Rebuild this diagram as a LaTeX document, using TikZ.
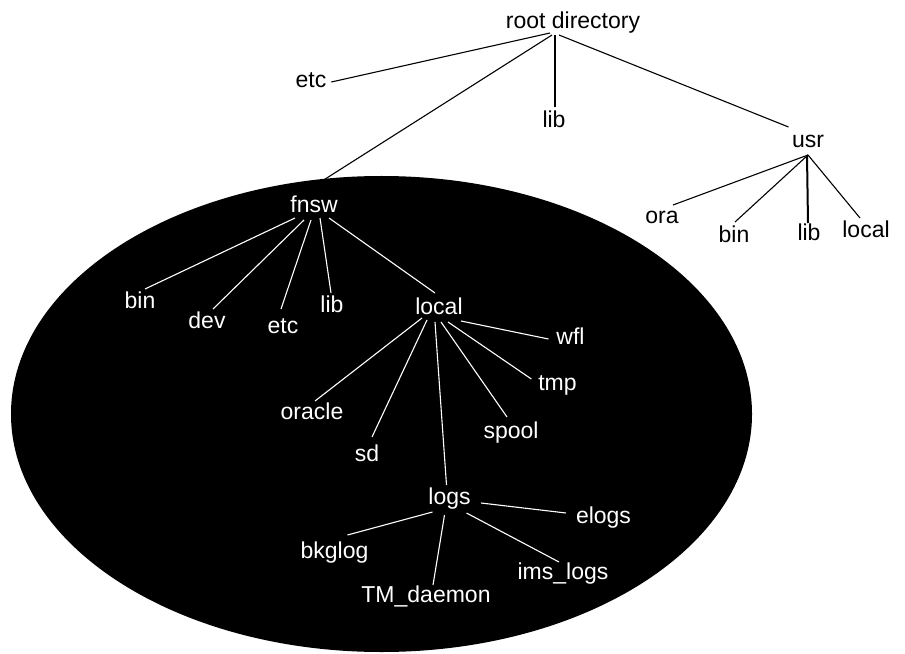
\documentclass[tikz,border=0pt]{standalone}
\usepackage{fontspec}
\setmainfont{Liberation Sans}
\begin{document}
\begin{tikzpicture}[x=1bp,y=-1bp,
  lbl/.style={inner sep=0pt, outer sep=0pt, anchor=base, text height=17bp, text depth=5bp,
    font=\fontsize{23bp}{27bp}\selectfont},
  wlbl/.style={lbl, text=white},
  blk/.style={draw=black, line width=1.1bp},
  wht/.style={draw=white, line width=1.1bp}]
\useasboundingbox (0,0) rectangle (905,654);
\fill[black] (381.5,414) ellipse [x radius=370.5bp, y radius=238bp];
% top level
\node[lbl] (root) at (573,29) {root directory};
\node[lbl] (etc) at (311,88) {etc};
\node[lbl] (lib) at (554,128) {lib};
\node[lbl] (usr) at (808,148) {usr};
\node[lbl] (ora) at (662,223) {ora};
\node[lbl] (ubin) at (734,242) {bin};
\node[lbl] (ulib) at (809,240) {lib};
\node[lbl] (ulocal) at (866,237) {local};
% inside ellipse
\node[wlbl] (fnsw) at (314,212) {fnsw};
\node[wlbl] (fbin) at (140,308) {bin};
\node[wlbl] (fdev) at (207,328) {dev};
\node[wlbl] (fetc) at (283,333) {etc};
\node[wlbl] (flib) at (332,312) {lib};
\node[wlbl] (flocal) at (439,314) {local};
\node[wlbl] (oracle) at (312,419) {oracle};
\node[wlbl] (sd) at (367,461) {sd};
\node[wlbl] (spool) at (511,438) {spool};
\node[wlbl] (wfl) at (570.5,344) {wfl};
\node[wlbl] (tmp) at (557.5,390) {tmp};
\node[wlbl] (logs) at (449.5,504) {logs};
\node[wlbl] (elogs) at (603.5,523) {elogs};
\node[wlbl] (bkglog) at (334.5,558) {bkglog};
\node[wlbl] (tmd) at (426,602) {TM\_daemon};
\node[wlbl] (ims) at (563,579) {ims\_logs};
% root connectors
\draw[blk] ([shift={(-23,-1)}]root.south) -- ([shift={(5,0)}]etc.east);
\draw[blk] ([shift={(-18,1)}]root.south) -- ([shift={(1,-4)}]lib.north);
\draw[blk] ([shift={(-21,1)}]root.south) -- ([shift={(-14,0)}]fnsw.north);
\draw[blk] ([shift={(-14,1)}]root.south) -- ([shift={(-3.5,-4)}]usr.north west);
% usr connectors
\draw[blk] ([shift={(0,2)}]usr.south) -- ([shift={(11,-1)}]ora.north);
\draw[blk] ([shift={(0,2)}]usr.south) -- ([shift={(1,-3)}]ubin.north);
\draw[blk, line width=2bp] ([shift={(-1,2)}]usr.south) -- ([shift={(-1,0)}]ulib.north);
\draw[blk] ([shift={(0,2)}]usr.south) -- ([shift={(-6,-2)}]ulocal.north);
% fnsw connectors
\draw[wht] ([shift={(-19,1)}]fnsw.south) -- ([shift={(5,-2)}]fbin.north);
\draw[wht] ([shift={(-10,3)}]fnsw.south) -- ([shift={(6,-2)}]fdev.north);
\draw[wht] ([shift={(-3,3)}]fnsw.south) -- ([shift={(-2,-7)}]fetc.north);
\draw[wht] ([shift={(6,1)}]fnsw.south) -- ([shift={(-1,-2)}]flib.north);
\draw[wht] ([shift={(15,1)}]fnsw.south) -- ([shift={(-4,-4)}]flocal.north);
% local connectors
\draw[wht] ([shift={(-17,-1)}]flocal.south) -- ([shift={(3,-1)}]oracle.north);
\draw[wht] ([shift={(-12,1)}]flocal.south) -- ([shift={(5,-7)}]sd.north);
\draw[wht] ([shift={(-4,3)}]flocal.south) -- ([shift={(-3,-2)}]logs.north);
\draw[wht] ([shift={(2,3)}]flocal.south) -- ([shift={(-4,-4)}]spool.north);
\draw[wht] ([shift={(9,3)}]flocal.south) -- ([shift={(-7,6)}]tmp.north west);
\draw[wht] ([shift={(22,2)}]flocal.south) -- ([shift={(-8,1)}]wfl.west);
% logs connectors
\draw[wht] ([shift={(10.5,5)}]logs.east) -- ([shift={(-10,-4)}]elogs.west);
\draw[wht] ([shift={(-17,3)}]logs.south) -- ([shift={(13,-6)}]bkglog.north);
\draw[wht] ([shift={(-5,6)}]logs.south) -- ([shift={(7,0)}]tmd.north);
\draw[wht] ([shift={(17,4)}]logs.south) -- ([shift={(-4,0)}]ims.north);
\end{tikzpicture}
\end{document}
